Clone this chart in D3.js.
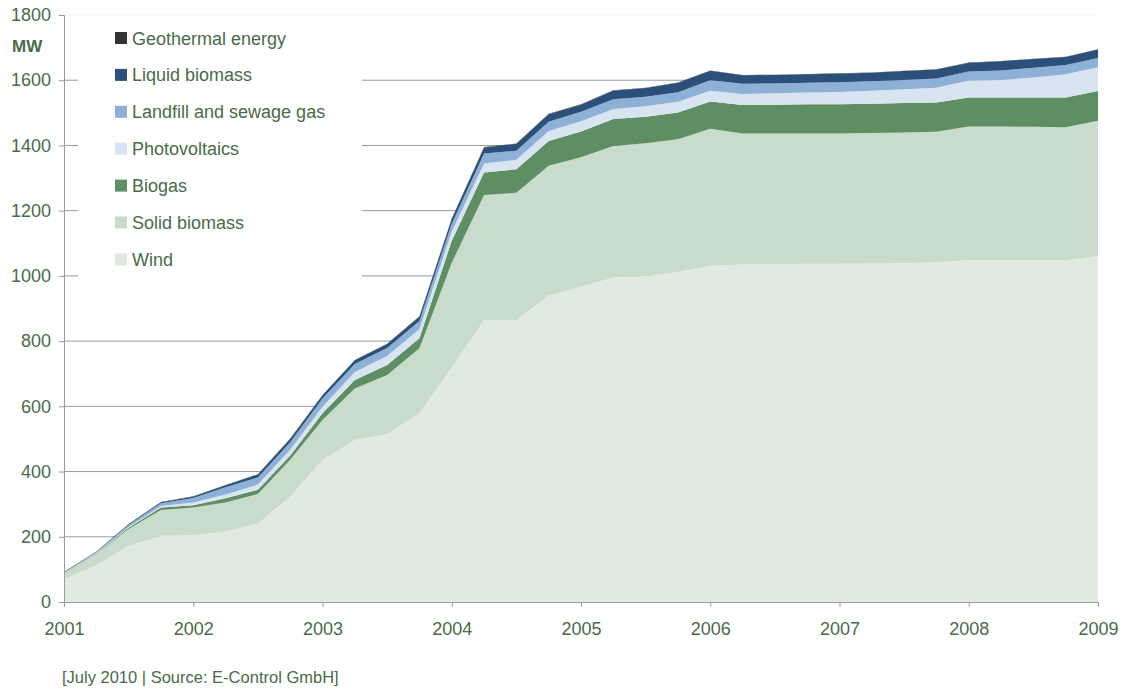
<!DOCTYPE html>
<html>
<head>
<meta charset="utf-8">
<script src="https://cdn.jsdelivr.net/npm/d3@7"></script>
<style>
  body { margin: 0; background: #fff; }
  svg text { font-family: "Liberation Sans", Arial, sans-serif; fill: #4a6a4a; }
</style>
</head>
<body>
<svg id="chart" width="1125" height="688"></svg>
<script>
// quarterly points, 2001 to 2009
const quarters = [2001, 2001.25, 2001.5, 2001.75, 2002, 2002.25, 2002.5, 2002.75,
  2003, 2003.25, 2003.5, 2003.75, 2004, 2004.25, 2004.5, 2004.75,
  2005, 2005.25, 2005.5, 2005.75, 2006, 2006.25, 2006.5, 2006.75,
  2007, 2007.25, 2007.5, 2007.75, 2008, 2008.25, 2008.5, 2008.75, 2009];

// MW per source (stack order bottom -> top)
const wind = [70, 113, 172, 203, 205, 216, 241, 323, 436, 497, 515, 579, 720, 865, 865, 940,
  967, 995, 1000, 1012, 1031, 1035, 1036, 1037, 1037, 1038, 1039, 1042, 1049, 1049, 1049, 1048, 1061];
const solidBiomass = [16, 34, 52, 79, 85, 89, 90, 113, 122, 158, 181, 199, 320, 383, 390, 398,
  397, 403, 407, 407, 420, 402, 401, 400, 400, 400, 401, 400, 409, 409, 408, 408, 415];
const biogas = [1, 2, 4, 8, 7, 13, 13, 13, 21, 26, 31, 31, 68, 69, 72, 76,
  79, 83, 81, 82, 84, 87, 88, 89, 89, 90, 90, 90, 89, 89, 90, 91, 91];
const photovoltaics = [1, 1, 2, 4, 8, 12, 16, 18, 20, 24, 27, 28, 28, 28, 29, 30,
  31, 31, 32, 33, 33, 34, 35, 36, 38, 40, 42, 45, 52, 54, 61, 71, 73];
const landfillGas = [2, 3, 6, 9, 14, 22, 22, 23, 25, 25, 25, 25, 24, 30, 28, 29,
  29, 30, 29, 29, 32, 31, 30, 30, 30, 29, 29, 28, 28, 29, 30, 29, 28];
const liquidBiomass = [1, 1, 2, 3, 4, 6, 9, 10, 10, 11, 12, 13, 15, 19, 21, 23,
  22, 26, 27, 29, 29, 26, 26, 26, 26, 26, 27, 28, 26, 28, 27, 24, 26];
const geothermal = [1, 1, 1, 1, 1, 1, 1, 1, 1, 1, 1, 1, 1, 1, 1, 1,
  1, 1, 1, 1, 1, 1, 1, 1, 1, 1, 1, 1, 1, 1, 1, 1, 1];

const seriesNames = ["Wind", "Solid biomass", "Biogas", "Photovoltaics",
  "Landfill and sewage gas", "Liquid biomass", "Geothermal energy"];
const seriesColors = ["#e0eae0", "#c9dbcb", "#5e8f62", "#d9e4f1", "#8db0d7", "#2b5079", "#333333"];
const yTicks = [0, 200, 400, 600, 800, 1000, 1200, 1400, 1600, 1800];
const xTicks = [2001, 2002, 2003, 2004, 2005, 2006, 2007, 2008, 2009];
const sourceNote = "[July 2010 | Source: E-Control GmbH]";

const allSeries = [wind, solidBiomass, biogas, photovoltaics, landfillGas, liquidBiomass, geothermal];
const rows = quarters.map((q, i) => {
  const r = { q: q };
  seriesNames.forEach((n, k) => { r[n] = allSeries[k][i]; });
  return r;
});

const svg = d3.select("#chart");
const x = d3.scaleLinear().domain([2001, 2009]).range([64, 1098]);
const y = d3.scaleLinear().domain([0, 1800]).range([602, 15]);

// gridlines
svg.append("g").selectAll("line")
  .data(yTicks.filter(d => d > 0))
  .enter().append("line")
  .attr("x1", 64).attr("x2", 1098)
  .attr("y1", d => y(d)).attr("y2", d => y(d))
  .attr("stroke", d => d === 1800 ? "#f2f2f2" : "#9a9a9a")
  .attr("stroke-width", 1);

const stacked = d3.stack().keys(seriesNames)(rows);
const area = d3.area()
  .x(d => x(d.data.q))
  .y0(d => y(d[0]))
  .y1(d => y(d[1]));

svg.append("g").selectAll("path")
  .data(stacked)
  .enter().append("path")
  .attr("d", area)
  .attr("fill", (d, i) => seriesColors[i]);

// axes
const yAxis = svg.append("g")
  .attr("transform", "translate(64,0)")
  .call(d3.axisLeft(y).tickValues(yTicks).tickSize(5).tickPadding(8).tickFormat(d3.format("d")));
const xAxis = svg.append("g")
  .attr("transform", "translate(0,602)")
  .call(d3.axisBottom(x).tickValues(xTicks).tickSize(5).tickPadding(15).tickFormat(d3.format("d")));
[yAxis, xAxis].forEach(a => {
  a.select(".domain").attr("stroke", "#9a9a9a");
  a.selectAll(".tick line").attr("stroke", "#9a9a9a");
  a.selectAll(".tick text").style("font-size", "18px").attr("fill", "#4a6a4a");
});

svg.append("text")
  .attr("x", 12).attr("y", 52)
  .style("font-size", "17px").style("font-weight", "bold")
  .text("MW");

// legend (white box hides the gridlines behind it)
svg.append("rect")
  .attr("x", 78).attr("y", 20).attr("width", 284).attr("height", 275)
  .attr("fill", "#fff");
const legend = svg.append("g").selectAll("g")
  .data(seriesNames.slice().reverse())
  .enter().append("g")
  .attr("transform", (d, i) => `translate(115,${38 + i * 36.9})`);
legend.append("rect")
  .attr("x", 0).attr("y", -6).attr("width", 12).attr("height", 12)
  .attr("fill", d => seriesColors[seriesNames.indexOf(d)]);
legend.append("text")
  .attr("x", 17).attr("y", 6.5)
  .style("font-size", "18px")
  .text(d => d);

svg.append("text")
  .attr("x", 62).attr("y", 683)
  .style("font-size", "16.5px")
  .text(sourceNote);
</script>
</body>
</html>
